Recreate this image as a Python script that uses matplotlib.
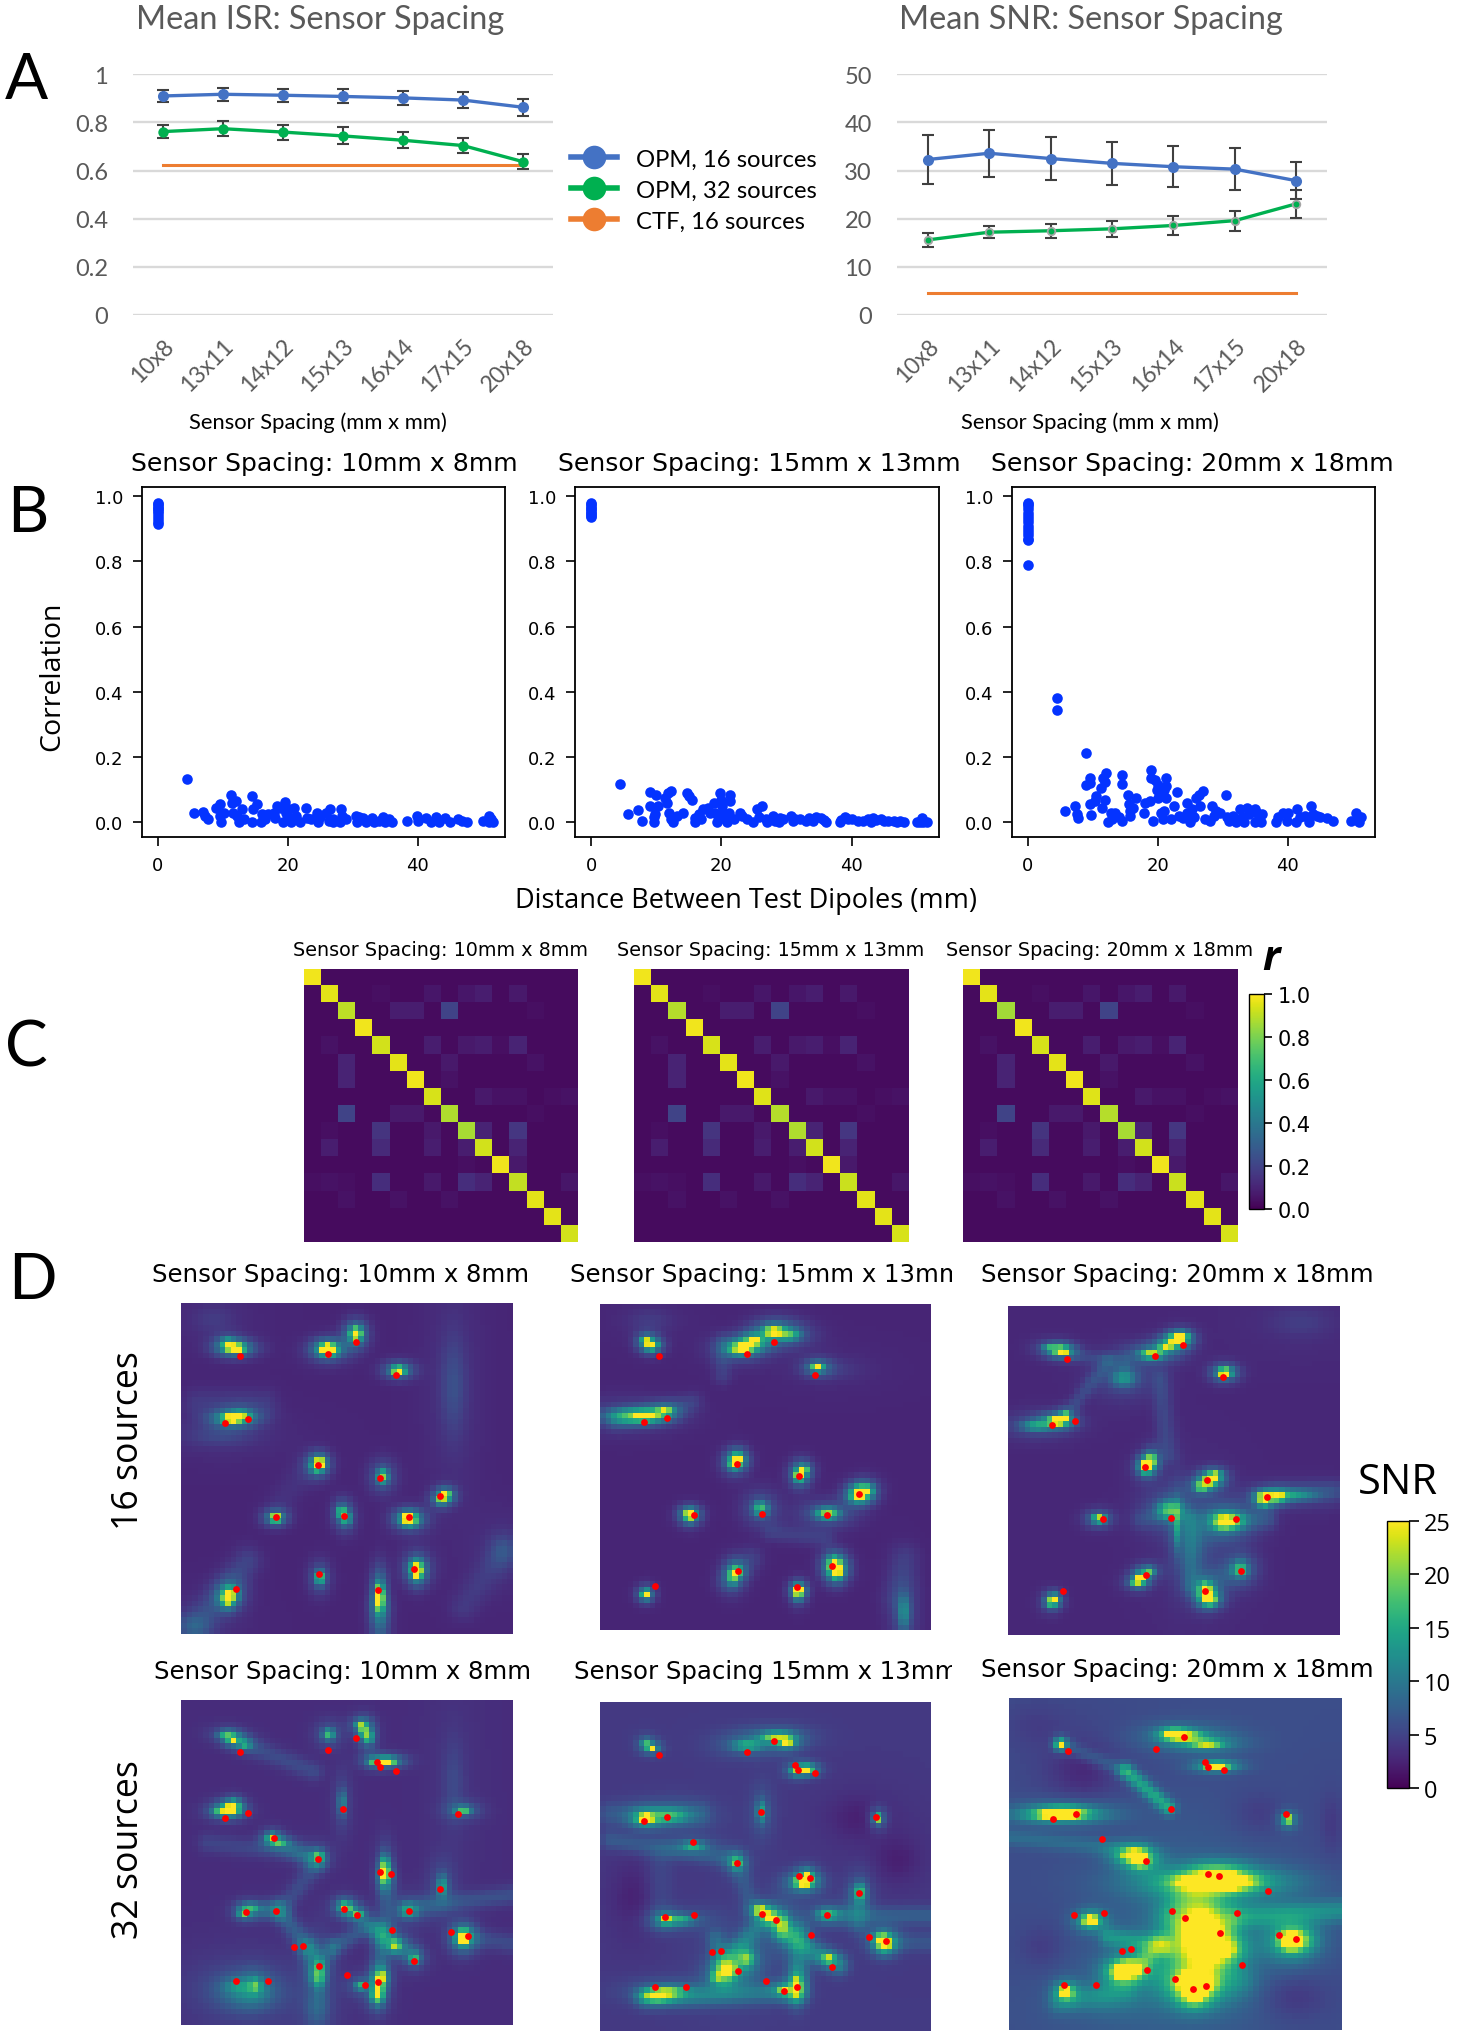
import numpy as np
import matplotlib
matplotlib.use('Agg')
import matplotlib.pyplot as plt
from matplotlib.cm import ScalarMappable
from matplotlib.colors import Normalize
from matplotlib.lines import Line2D
from matplotlib.transforms import Bbox

W, H = 1466, 2040

# panel A
spacing_labels = ['10x8', '13x11', '14x12', '15x13', '16x14', '17x15', '20x18']
legend_labels = ['OPM, 16 sources', 'OPM, 32 sources', 'CTF, 16 sources']
isr_opm16 = [.91, .917, .913, .908, .902, .893, .863]
isr_opm16_err = [.025, .026, .027, .029, .03, .032, .036]
isr_opm32 = [.762, .774, .76, .744, .726, .704, .637]
isr_opm32_err = [.028, .031, .031, .035, .033, .03, .03]
isr_ctf = [.625] * 7
snr_opm16 = [32.3, 33.6, 32.5, 31.5, 30.8, 30.3, 27.9]
snr_opm16_err = [5, 4.9, 4.5, 4.4, 4.3, 4.4, 3.9]
snr_opm32 = [15.6, 17.2, 17.5, 17.9, 18.6, 19.6, 23.1]
snr_opm32_err = [1.4, 1.3, 1.5, 1.6, 1.9, 2.1, 2.9]
snr_ctf = [4.5] * 7

# panel B, (distance, correlation)
scat1_top = [.98, .975, .97, .965, .96, .955, .95, .94, .93, .92, .915]
scat1 = [(4.4,.133),(5.6,.03),(7,.033),(7.3,.02),(7.7,.01),(8.9,.045),(9.6,.055),(9.5,.02),(9.7,0),(10.2,.03),
         (11.2,.085),(11.4,.06),(11.5,.03),(12,.065),(12.2,.02),(12.5,0),(12.9,.04),(13.3,.01),(14.4,.082),(14.6,.042),
         (15.3,.055),(14.5,0),(15.8,0),(16,.025),(16.5,.01),(17,.025),(17.8,.03),(18,.012),(18.3,.05),(19,.045),
         (19.2,0),(19.6,.062),(19.7,.03),(20,.015),(20.2,.04),(20.5,0),(21,.045),(21.2,.02),(21.8,0),(22.8,.045),
         (23,.012),(23.5,.01),(24.5,.03),(24.6,0),(25,.015),(25.8,.03),(26.5,.04),(26.3,.005),(27,.01),(27,0),
         (28,.002),(28.2,.04),(28.3,.02),(29,.01),(30.5,.02),(30.6,0),(31,.015),(31.5,.012),(32,.002),(33,.012),
         (33.3,.002),(34,.005),(34.7,.015),(35,.002),(35.5,.01),(36,.002),(38.3,.005),(39.8,.02),(40,.003),(41.3,.012),
         (42,0),(42.8,.015),(43.2,.002),(44.2,.012),(45,.002),(46.2,.01),(46.8,.003),(47.5,.002),(50,.005),(50.9,.018),
         (51,.002),(51.3,.01),(51.5,0)]
scat2_top = [.98, .975, .97, .965, .96, .955, .95, .945, .94, .935]
scat2 = [(4.5,.117),(5.7,.025),(7.2,.038),(7.8,.003),(9.6,.002),(9.7,.015),(9.8,.025),(9,.05),(9,.092),(9.9,.085),
         (10.3,.05),(11.3,.075),(11.8,.09),(12.2,.095),(11.6,.06),(12,.03),(12.3,.01),(12.6,0),(13.2,.02),(14.1,.03),
         (14.7,.09),(15,.08),(15.5,.07),(15.9,.012),(15.9,0),(16.5,.025),(16.9,.01),(17.2,.04),(18,.045),(18.3,.03),
         (18.9,.06),(19,.03),(19.5,.02),(19.4,0),(19.8,.09),(20,.07),(20.1,.05),(20.2,.03),(20.5,.01),(20.8,0),
         (21.3,.085),(21.4,.065),(21.2,.03),(22,.01),(22.8,.03),(23.2,.02),(24,.01),(24.8,0),(25.5,.04),(25.8,.015),
         (26.2,.05),(26.8,.01),(27,0),(28,.02),(28.2,.005),(28.8,0),(29,.012),(29.5,.01),(30.7,.02),(31,.005),
         (31.3,.01),(32,.01),(33,.005),(33.5,.012),(34,.005),(34.6,.015),(35.3,.012),(35.8,.008),(36,.002),(38.2,.002),
         (38.3,.008),(39,.015),(39.5,.01),(40,.01),(41,.005),(41.8,.005),(42.5,.01),(43,.002),(43.3,.012),(43.8,.008),
         (44.5,.01),(45,.003),(45.5,.005),(46.5,.003),(47,.002),(47.4,.003),(48,.001),(50,.001),(50.5,.002),(50.8,.012),
         (51,.001),(51.5,.002)]
scat3_top = [.98, .975, .97, .96, .95, .94, .93, .92, .91, .9, .89, .88, .87, .865, .79]
scat3 = [(4.5,.38),(4.5,.345),(5.7,.035),(7.2,.05),(7.5,.025),(7.7,.012),(9,.213),(8.9,.115),(9.6,.135),(9.6,.12),
         (9.6,.055),(9.7,.022),(10.3,.065),(10.5,.082),(11.2,.105),(11.6,.135),(12,.15),(11.9,.125),(11.4,.045),(11.9,.07),
         (12.3,0),(12.8,.03),(13,.01),(13.4,.03),(14,.015),(14.5,.145),(14.5,.118),(14.5,.005),(15.4,.083),(15.6,.055),
         (15.7,.035),(15.7,.018),(16.2,.045),(16.6,.075),(17.8,.03),(18,.06),(18.7,.065),(18.9,.16),(19,.135),(19.3,.005),
         (19.5,.13),(19.8,.1),(20,.115),(20,.075),(20.3,.09),(20.5,.03),(20.8,.01),(21,.035),(21,.1),(21.3,.135),
         (21.2,.112),(21.3,.075),(22,.01),(22.4,.05),(22.9,.093),(23.2,.02),(23.8,.012),(24.4,.06),(24.5,.03),(24.9,.002),
         (25.3,.04),(25.5,.015),(25.9,.075),(26.3,.085),(26.5,.05),(27,.095),(27.3,.01),(28,.005),(28.3,.05),(28.7,.02),
         (29,.035),(29.5,.03),(30.5,.085),(30.7,.015),(31,.005),(31.5,.02),(32,.002),(32.7,.04),(33,.015),(33.3,.002),
         (33.7,.045),(34,.025),(34.9,.04),(35,.002),(35.5,.01),(35.9,.002),(35.3,.03),(36,.025),(38.2,.002),(38.4,.015),
         (39.2,.03),(39.8,.005),(40,.03),(41.3,.002),(41.4,.04),(41.8,.015),(42.6,.02),(43.2,.002),(43.5,.05),(43.9,.025),
         (44.5,.02),(45,.015),(46,.012),(47,.005),(49.7,.003),(50.5,.03),(50.7,.008),(51,.002),(51.3,.015)]

# panel C, off diagonal cells (row, col, r) and one diagonal per spacing
corr_off = [(1,4,.04),(1,7,.06),(1,9,.06),(1,10,.08),(1,12,.07),(2,5,.08),(2,6,.08),(2,8,.2),(2,12,.03),(2,13,.04),
            (4,1,.05),(4,7,.08),(4,9,.07),(4,10,.08),(4,11,.04),(4,12,.1),(5,2,.1),(5,8,.07),(5,13,.05),(6,2,.1),(6,8,.05),
            (7,1,.03),(7,10,.07),(7,11,.05),(7,12,.05),(7,14,.04),(7,15,.05),(8,2,.2),(8,5,.07),(8,6,.07),(8,11,.03),(8,13,.04),
            (9,0,.03),(9,1,.04),(9,4,.15),(9,7,.07),(9,10,.1),(9,12,.16),(10,1,.08),(10,4,.12),(10,7,.08),(10,9,.08),(10,12,.1),
            (11,4,.03),(11,9,.04),(11,12,.07),(12,0,.04),(12,1,.05),(12,2,.04),(12,4,.13),(12,7,.07),(12,9,.13),(12,10,.1),
            (12,15,.06),(13,2,.05),(13,5,.05),(13,8,.05)]
corr_diag_10 = [.98, .96, .9, .98, .93, .96, .98, .94, .88, .87, .93, .98, .91, .96, .96, .93]
corr_diag_15 = [.98, .96, .89, .98, .94, .96, .98, .95, .89, .88, .93, .98, .92, .96, .96, .94]
corr_diag_20 = [.98, .96, .86, .98, .94, .96, .98, .95, .89, .87, .93, .98, .92, .96, .96, .94]

# panel D, source positions in percent of the map (x right, y down)
sources_16 = [(17.8,16),(44.4,15.3),(52.6,11.8),(64.9,21.7),(13.2,36.3),(20.2,34.9),(41.3,49),(60,52.9),
              (78.1,58.2),(28.5,64.8),(49,64.3),(68.6,64.8),(41.6,81.8),(70.1,80.4),(16.7,86.5),(59.4,86.7)]
sources_32 = sources_16 + [(59,19.2),(59.9,20.7),(48.7,33.4),(83.5,35),(28,42.5),(63.3,53.6),(19.6,65.3),(53.1,66.3),
                           (63.6,70.8),(81.3,71.5),(86.3,72.7),(33.9,76.1),(36.7,75.6),(26.1,86.5),(50.1,84.7),(55.5,87.7)]

# hot spots: x, y, SNR, width x, width y
spots16_10 = [(16.4,13.6,30,2.2,1),(14,12,12,1.5,1),(44.2,13.6,30,1.6,1),(44.5,14.5,11,2.5,1.5),(52.6,9.3,30,1.3,1.5),
              (65.5,20.3,25,1.7,1),(15.3,35,28,2.4,.9),(18,34,12,2.5,1.2),(41.7,48.3,25,1.1,1.1),(41,49.5,12,1.5,1.5),
              (60.7,52.4,15,1.5,1.8),(79.6,58,25,1.2,1),(78,59.5,12,1.2,1),(28.4,64.8,25,1.4,1),(48.3,63.2,15,1,1.5),
              (49.8,65,10,1.2,1.8),(68.6,64.8,28,1.5,1),(69,66,10,2.2,1.5),(41.8,83,15,1.2,1.8),(71.2,81.3,25,1,1.5),
              (71,80,12,1.8,2),(14,89.4,28,1,1.2),(15,88,14,1.8,1.8),(59.7,88.9,32,.9,3),
              (82,25,3,3.5,14),(12,40,2.5,9,3),(10,5,1.5,6,4),(97,75,2.5,4,5),(3,98,3,6,4)]
ridges16_10 = [(5,97,20,78,2.5,3),(30,60,38,50,1,3),(97,75,85,92,1.5,3),(5,30,25,30,1.5,3),(60,100,60,92,3,2.5)]
spots16_15 = [(15.5,12.7,28,1.3,1),(13.8,11,14,1.2,1),(44.3,12.7,28,2,1),(42.1,14,13,3,1.5),(46.6,11,16,1.5,1),
              (52.5,8.4,20,2.5,1.5),(57.2,9.4,10,3,1.5),(65.6,19.4,20,1.6,1),(13.9,34.3,30,2.5,.9),(7,34.3,8,6,2),
              (19.6,32.8,14,2,1),(41.6,47.5,28,1.2,1.2),(40.5,49,13,1.5,1.5),(60.2,52.6,20,1.2,1.5),(61.5,50.9,15,1.2,1.2),
              (78.4,57.7,28,1.5,1.2),(77.8,59.2,15,1.4,1),(80.8,57.2,12,1.5,1.4),(48.6,62.7,13,2,2),(27.1,64.3,24,1.3,1),
              (27.1,65.8,10,1.3,1.2),(68.7,64.3,16,3,1.5),(40.1,83.5,13,1.3,2),(41.6,82,12,1.3,1.4),(71.2,81,24,1.5,1.5),
              (70.7,79,12,1.4,1.4),(71.4,82.5,14,1.2,1.5),(13.8,89,28,1,1),(59.9,87.6,26,1,1),(59.9,89,14,1,1.4),
              (91.8,94.7,8,1.8,5),(70,20,1.5,8,3),(15,5,1.5,6,3)]
ridges16_15 = [(37,12,37,22,2,2),(5,36,28,30,2,2),(52,70,68,72,2,2),(90,90,92,78,1.5,3),(38,85,46,78,2,2.5)]
spots16_20 = [(16.2,13.7,30,1.6,.9),(12.7,12.8,9,2,1),(50.8,10.3,28,1.6,.9),(52.3,9.3,18,1.4,1),(43.3,14.6,17,3,1.2),
              (47.8,12.3,14,2,1),(65.3,20.3,30,1.5,1),(34.8,21.8,9,3.5,2.5),(14.7,34.9,30,2,.9),(17.2,33.4,16,1,1),
              (8.2,36.4,9,4,1.5),(41.8,48,28,1,1),(43.3,46.7,17,1,1.5),(41.3,49.5,12,1.4,1.4),(60.8,53,25,1.5,1),
              (62.3,51.5,16,1.5,1),(58.3,55,17,1.5,1),(77.4,58,30,1.3,.9),(81.4,58,18,1.3,.9),(77,59.5,15,1.1,1),
              (86.4,57.6,7,6,1.5),(27.3,64.7,20,1.5,1),(48.3,62,11,3,2.5),(50.8,67,7,1,6),(64.8,65.6,16,2.5,2),
              (68,65.5,9,3,2),(40,82.7,25,1,1),(38.5,84,12,1.5,1),(42.5,80.5,12,1.5,1),(69.9,80,11,2,2),
              (59.3,86.2,14,1.5,2),(60.3,87.7,28,1,1),(60.8,89.5,18,1.6,1),(13.9,89.2,28,.9,.9),(12.7,90,10,1.2,1.2),
              (57,72,3,5,8),(88,5,1.5,8,4)]
ridges16_20 = [(20,30,30,17,2.5,1.5),(20,15,35,17,2,1.5),(46,22,48,45,2.5,2),(55,65,55,85,4,2),(82,57,98,56,2.5,2),
               (62,65,78,65,3,2),(40,65,52,62,2,2),(60,85,70,80,2.5,3)]
spots32_10 = [(15.7,12.1,18,1.2,.8),(13.4,10.6,9,2,1),(19.4,13.6,9,1.5,1),(44.5,10.6,12,1.5,1.5),(54,7.5,11,1.4,1),
              (55,9.5,15,1,1.5),(56.5,11.6,13,1,1.5),(62,18.8,28,2,.8),(58,19,9,1.5,1),(14.8,33.6,30,1.7,1),
              (16,32.3,15,1,1),(11.8,34.4,9,2,1),(48.5,31.6,8,1,3.5),(85,33.9,13,2,1),(27.2,42.3,13,1.2,1),
              (29.6,43.9,9,2,.8),(41.4,48,10,1.5,1.5),(61.3,53.6,28,.8,1.7),(61.5,51,10,1,3),(78.6,57.2,9,1.5,3),
              (18.9,65.4,12,1.3,1),(21.5,63.8,8,2,1),(49.5,63.8,15,1.5,1.2),(53,65.9,10,1.5,1),(68.6,64.8,8,2.5,2),
              (84.9,73.1,30,1.5,1.7),(64.6,75.6,13,1.5,1.5),(70.3,79.7,10,1.5,1.5),(41.5,83.8,8,1.5,5),(22.4,87.9,8,1.5,2),
              (17,88,4,4,2),(54,87.9,11,1.5,1.2),(59.5,88.4,28,.8,2),(60.5,85,12,1.2,1.5),(59,91,11,1.5,2),
              (20,90,6,8,5),(41,95,3,3,5),(82,25,2,3,12)]
ridges32_10 = [(15,12,40,22,2.5,2),(28,43,41,50,3.5,2),(41,50,30,65,2.5,2),(29,64,38,76,4,2),(38,76,41,85,4,2),
               (49,63,60,72,3,2),(56,70,46,76,3.5,1.8),(46,76,41,85,2.5,1.8),(68,64,100,60,3,2),(86,73,100,75,2.5,2),
               (60,85,60,70,3.5,2),(62,55,62,75,2.5,2),(8,44,40,48,2,2),(60,72,70,78,3.5,2),(20,65,29,65,3.5,2)]
spots32_15 = [(15.6,14,18,1.2,.8),(13.8,12.3,9,1.2,1),(53,10.7,13,4,1.3),(56.4,12.2,18,1.5,1),(44.4,13.3,9,4,1.5),
              (62.2,20.5,30,1.5,.8),(59,21,10,1.4,1),(13.8,35.3,30,1.7,1),(21.3,34.5,9,5,2),(48.9,33.3,9,1.3,3),
              (84,35.3,17,1,1.3),(28.3,43.6,10,3,1),(41.4,48.9,10,1.5,1.5),(61.4,54.9,26,2,1.2),(62.5,53,17,1.2,1.2),
              (78.5,58,10,1.5,2.5),(19.8,66.2,15,1.5,1),(24.5,66.2,9,4,1.3),(48.4,63.3,22,1.3,.9),(51.4,65.5,24,1,1),
              (54.9,67.5,12,2,3),(68.8,64.5,8,3,1.5),(86,73.5,30,1.3,1.3),(85,72,11,2,1.5),(69,78,13,1.5,1),
              (38.9,81.5,12,2.2,2),(44.4,78,10,2,2),(35.3,83.5,10,1.5,1.5),(17,89.4,30,1.8,.7),(20.3,88,11,5,1.5),
              (59.4,86.5,24,.9,2),(55.4,87.5,13,1.5,1),(42,80,3,6,6),(10,60,-1.5,6,10),(78,35,-1.5,8,6),(90,48,-1.5,6,6)]
ridges32_15 = [(3,42,41,48,3,2),(14,90,58,88,5,2.2),(41,48,46,62,2.5,2),(50,65,38,80,5,2.2),(55,70,72,80,6,2.2),
               (60,70,60,88,5,2.5),(68,65,100,65,3.5,2),(78,58,78,68,2.5,2),(86,73,100,73,2.5,2),(35,72,38,84,4,2),
               (18,48,18,66,1.5,3),(3,34,30,34,2.5,2.5)]
spots32_20 = [(15.5,13.9,30,.8,.8),(49.6,10.5,28,1.7,.7),(52.5,11.6,14,5,1.5),(59.6,13.8,14,4,1),(62.4,20.5,32,2.5,.7),
              (15,35.1,30,4.5,.9),(16.5,34.3,12,6,1.5),(83.7,36.6,22,1,1),(37.5,47.4,30,2.5,1.2),(39.5,49.4,16,2,1.2),
              (24.5,67,30,1.7,1.2),(61.6,55.4,36,8,1.7),(63.6,53.9,28,3,1.5),(57.1,68.5,32,2.5,2.5),(59.6,72.5,32,2.5,3.5),
              (62.6,75.5,32,3,1.5),(84.7,73,32,2.5,2),(35.5,81.5,32,2.5,1.5),(33.5,83,22,1.5,1.2),(56,85.5,32,4,2.5),
              (55.6,89.5,30,1.8,1.5),(17,88.6,28,1.4,1.3),(56,72,9,10,11),(88,73,5,4,3),(30,90,3,9,5),(70,85,2,4,4),
              (22,22,-2.5,9,8),(75,35,-1.5,7,6),(85,90,-2,9,6),(10,75,-1.5,6,6),(97,38,-1.5,3,8),(8,8,-1,8,6)]
ridges32_20 = [(35,22,48,33,9,1.6),(16,14,35,22,3,1.5),(0,42,40,46,3,1.8),(68,66,100,64,6,2.5),(30,72,47,75,6,2),
               (38,82,45,74,6,2),(58,55,48,65,3,3),(15,92,35,88,3,2.5)]

spacing_titles = ['Sensor Spacing: 10mm x 8mm', 'Sensor Spacing: 15mm x 13mm', 'Sensor Spacing: 20mm x 18mm']
colorbar_r_ticks = [0, .2, .4, .6, .8, 1]
colorbar_snr_ticks = [0, 5, 10, 15, 20, 25]


def add_ax(left, top, right, bottom):
    return fig.add_axes([left / W, 1 - bottom / H, (right - left) / W, (bottom - top) / H])


def add_text(x, y, s, **kw):
    kw.setdefault('ha', 'center')
    kw.setdefault('va', 'center')
    return fig.text(x / W, 1 - y / H, s, **kw)


def line_panel(ax, ticks, ticklabels, opm16, opm16_err, opm32, opm32_err, ctf, small32):
    x = np.arange(len(spacing_labels))
    ax.set_xlim(-.5, 6.5)
    ax.set_ylim(ticks[0], ticks[-1])
    ax.set_yticks(ticks)
    ax.set_yticklabels(ticklabels, fontsize=17, color='#595959', family='Lato')
    ax.set_xticks(x)
    ax.set_xticklabels(spacing_labels, fontsize=16.5, color='#595959', family='Lato', rotation=45, ha='right', rotation_mode='anchor')
    ax.tick_params(length=0)
    ax.tick_params(axis='y', pad=18)
    ax.tick_params(axis='x', pad=14)
    ax.grid(axis='y', color='#D9D9D9', lw=1.7)
    ax.set_axisbelow(True)
    for s in ax.spines.values():
        s.set_visible(False)
    ax.plot(x, ctf, color='#ED7D31', lw=2.2, clip_on=False, zorder=2)
    ax.errorbar(x, opm32, yerr=opm32_err, fmt='none', ecolor='#404040', elinewidth=1.5, capsize=4.5, capthick=1.5, clip_on=False, zorder=3)
    ax.errorbar(x, opm16, yerr=opm16_err, fmt='none', ecolor='#404040', elinewidth=1.5, capsize=4.5, capthick=1.5, clip_on=False, zorder=3)
    ax.plot(x, opm32, color='#00B050', lw=2.4, marker='o', ms=5.5 if small32 else 7.5,
            mec='#A5A5A5' if small32 else '#00B050', mew=1.3 if small32 else 0, clip_on=False, zorder=4)
    ax.plot(x, opm16, color='#4472C4', lw=2.4, marker='o', ms=8, mew=0, clip_on=False, zorder=4)


def scatter_panel(ax, top, points):
    xs = [0] * len(top) + [p[0] for p in points]
    ys = list(top) + [p[1] for p in points]
    ax.scatter(xs, ys, s=58, color='#0433FF', linewidths=0, clip_on=False)
    ax.set_xlim(-2.46, 53.4)
    ax.set_ylim(-.045, 1.0285)
    ax.set_xticks([0, 20, 40])
    ax.set_yticks([0, .2, .4, .6, .8, 1])
    ax.tick_params(labelsize=13, width=1.2, length=6.5, pad=7, colors='black')
    for s in ax.spines.values():
        s.set_linewidth(1.3)


def corr_matrix(diag):
    m = np.full((16, 16), .03)
    for i, j, v in corr_off:
        m[i, j] = v
    m[np.arange(16), np.arange(16)] = diag
    return m


def snr_field(base, spots, ridges=(), n=60):
    c = (np.arange(n) + .5) * 100 / n
    X, Y = np.meshgrid(c, c)
    Z = np.full((n, n), float(base))
    for x, y, a, sx, sy in spots:
        Z += .9 * a * np.exp(-(X - x) ** 2 / (2 * (.75 * sx) ** 2) - (Y - y) ** 2 / (2 * (.75 * sy) ** 2))
        Z += .3 * a * np.exp(-(X - x) ** 2 / (2 * (2 * sx) ** 2) - (Y - y) ** 2 / (2 * (2 * sy) ** 2))
    for x1, y1, x2, y2, a, w in ridges:
        dx, dy = x2 - x1, y2 - y1
        t = np.clip(((X - x1) * dx + (Y - y1) * dy) / (dx * dx + dy * dy), 0, 1)
        d2 = (X - x1 - t * dx) ** 2 + (Y - y1 - t * dy) ** 2
        Z += a * np.exp(-d2 / (2 * w ** 2))
    return Z


def snr_panel(ax, Z, sources):
    ax.imshow(Z, cmap='viridis', vmin=0, vmax=25, extent=(0, 100, 100, 0), interpolation='nearest', aspect='auto')
    ax.scatter([p[0] for p in sources], [p[1] for p in sources], s=24, color='#FF0000', linewidths=0, zorder=3)
    ax.set_xlim(0, 100)
    ax.set_ylim(100, 0)
    ax.axis('off')


fig = plt.figure(figsize=(W / 100, H / 100), dpi=100)

# A
ax = add_ax(133, 75.3, 553, 316)
line_panel(ax, [0, .2, .4, .6, .8, 1], ['0', '0.2', '0.4', '0.6', '0.8', '1'],
           isr_opm16, isr_opm16_err, isr_opm32, isr_opm32_err, isr_ctf, False)
ax = add_ax(897, 75.3, 1327, 316)
line_panel(ax, [0, 10, 20, 30, 40, 50], ['0', '10', '20', '30', '40', '50'],
           snr_opm16, snr_opm16_err, snr_opm32, snr_opm32_err, snr_ctf, True)
add_text(320, 20, 'Mean ISR: Sensor Spacing', fontsize=23.3, color='#595959', family='Lato')
add_text(1091, 20, 'Mean SNR: Sensor Spacing', fontsize=23.3, color='#595959', family='Lato')
add_text(318, 423, 'Sensor Spacing (mm x mm)', fontsize=15.8, family='Lato')
add_text(1090, 423, 'Sensor Spacing (mm x mm)', fontsize=15.8, family='Lato')
handles = [Line2D([], [], color=c, lw=4, marker='o', ms=17, mew=0) for c in ['#4472C4', '#00B050', '#ED7D31']]
fig.legend(handles, legend_labels, loc='center left', bbox_to_anchor=(549 / W, 1 - 191 / H), frameon=False,
           prop={'family': 'Lato', 'size': 17.2}, handlelength=1.95, handletextpad=.8, labelspacing=.42)

# B
for (left, right), top, pts, title_x, title in zip([(142, 505), (575, 939), (1012, 1375)], [scat1_top, scat2_top, scat3_top],
                                                   [scat1, scat2, scat3], [324, 759, 1192], spacing_titles):
    ax = add_ax(left, 488, right, 838)
    scatter_panel(ax, top, pts)
    add_text(title_x, 464, title, fontsize=18.1)
add_text(746, 901, 'Distance Between Test Dipoles (mm)', fontsize=19.5, family='Open Sans')
add_text(52, 676, 'Correlation', fontsize=20.5, family='Open Sans', rotation=90)

# C
for (left, right), diag, title_x, title in zip([(304, 578), (633.5, 908), (962.5, 1237)],
                                               [corr_diag_10, corr_diag_15, corr_diag_20], [441, 771, 1100], spacing_titles):
    ax = add_ax(left, 969.5, right, 1243)
    ax.imshow(corr_matrix(diag), cmap='viridis', vmin=0, vmax=1, interpolation='nearest', aspect='auto')
    ax.axis('off')
    add_text(title_x, 951, title, fontsize=13.8)
cax = add_ax(1249, 995, 1264, 1210)
cb = fig.colorbar(ScalarMappable(Normalize(0, 1), 'viridis'), cax=cax, ticks=colorbar_r_ticks)
cb.ax.tick_params(labelsize=15, width=1.2, length=6)
cb.outline.set_linewidth(1)
add_text(1271, 960, 'r', fontsize=30, style='italic', weight='bold', family='Open Sans')

# D
maps = [(181, 1304, 513, 1635, snr_field(2.6, spots16_10, ridges16_10), sources_16),
        (600, 1305, 931, 1631, snr_field(2.6, spots16_15, ridges16_15), sources_16),
        (1008, 1307, 1340, 1636, snr_field(2.8, spots16_20, ridges16_20), sources_16),
        (181, 1701, 513, 2026, snr_field(3.2, spots32_10, ridges32_10), sources_32),
        (600, 1703, 931, 2032, snr_field(4.2, spots32_15, ridges32_15), sources_32),
        (1009, 1699, 1341, 2031, snr_field(6, spots32_20, ridges32_20), sources_32)]
for left, top, right, bottom, Z, src in maps:
    snr_panel(add_ax(left, top, right, bottom), Z, src)

add_text(341, 1275, spacing_titles[0], fontsize=17.55)
t = add_text(570, 1275, spacing_titles[1], fontsize=17.55, ha='left', clip_on=True)
t.set_clip_box(Bbox([[0, 0], [952, H]]))
add_text(1177, 1275, spacing_titles[2], fontsize=17.55)
add_text(343, 1672, spacing_titles[0], fontsize=17.55)
t = add_text(574, 1672, 'Sensor Spacing 15mm x 13mm', fontsize=17.55, ha='left', clip_on=True)
t.set_clip_box(Bbox([[0, 0], [952, H]]))
add_text(1177, 1670, spacing_titles[2], fontsize=17.55)

add_text(129, 1441, '16 sources', fontsize=25.7, family='Open Sans', rotation=90)
add_text(129, 1850, '32 sources', fontsize=25.7, family='Open Sans', rotation=90)
add_text(1398, 1483, 'SNR', fontsize=30, family='Open Sans')
cax = add_ax(1387, 1522, 1409, 1789)
cb = fig.colorbar(ScalarMappable(Normalize(0, 25), 'viridis'), cax=cax, ticks=colorbar_snr_ticks)
cb.ax.tick_params(labelsize=17, width=1.2, length=7)
for lab in cb.ax.get_yticklabels():
    lab.set_family('Open Sans')
cb.outline.set_linewidth(1)

# panel letters
for letter, x, y in [('A', 26, 81), ('B', 28, 514), ('C', 26, 1049), ('D', 32, 1281)]:
    add_text(x, y, letter, fontsize=46, family='Lato')

fig.savefig('out.png', dpi=100)
